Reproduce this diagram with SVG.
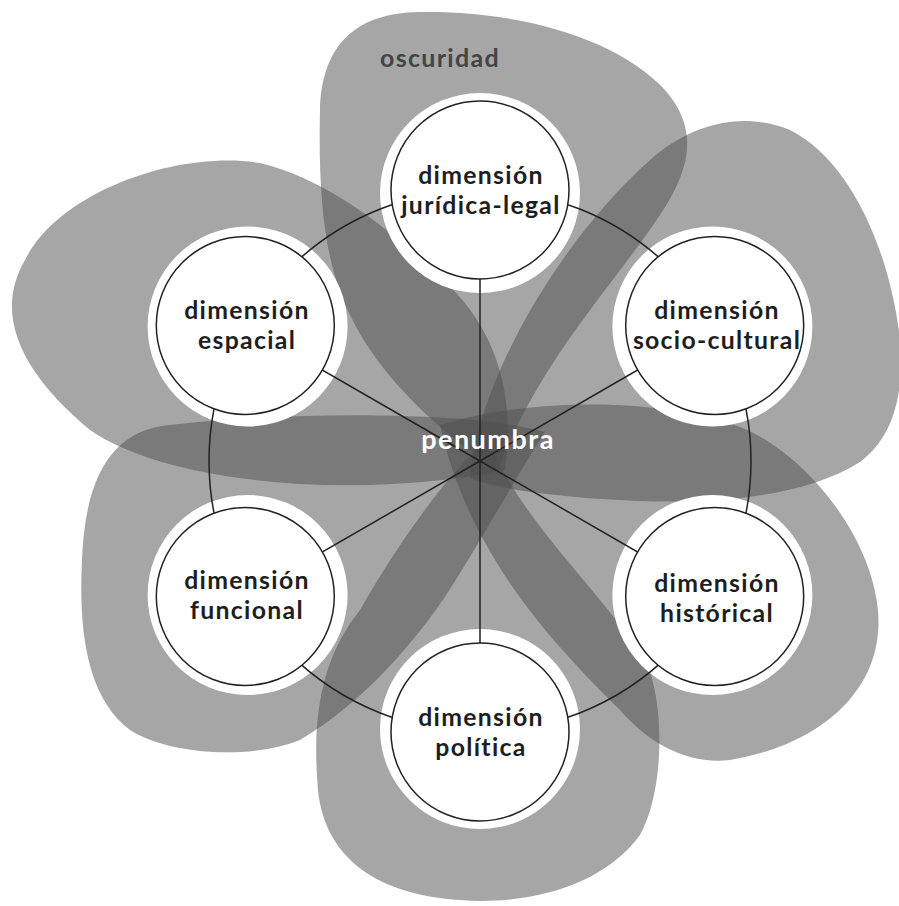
<svg xmlns="http://www.w3.org/2000/svg" width="899" height="906" viewBox="0 0 899 906">
<style>
.petal{fill:#4d4d4d;fill-opacity:0.5}
.halo{fill:#ffffff}
.disc{fill:#ffffff;stroke:#222222;stroke-width:1.5}
.conn{fill:none;stroke:#222222;stroke-width:1.5}
.lbl{font-family:Lato,"Open Sans","Liberation Sans",sans-serif;font-weight:700;font-size:24.8px;letter-spacing:1.3px;fill:#1e1e1e;text-anchor:middle}
.pen{font-family:Lato,"Open Sans","Liberation Sans",sans-serif;font-weight:700;font-size:27px;letter-spacing:1.5px;fill:#ffffff;text-anchor:middle}
.osc{font-family:Lato,"Open Sans","Liberation Sans",sans-serif;font-weight:700;font-size:25px;letter-spacing:1.3px;fill:#444444}
</style>
<rect width="899" height="906" fill="#ffffff"/>
<g id="petals">
<path id="petal-top" class="petal" d="M498,470 C450,440 380,380 350,315 C325,265 318,200 320,110 C322,50 350,13 420,12 C520,10 620,40 665,90 C700,130 690,170 660,215 C610,290 540,360 498,470Z"/>
<path id="petal-upper-right" class="petal" d="M470,478 C478,380 560,240 650,160 C690,125 740,110 790,130 C850,160 890,250 900,340 C905,400 890,440 860,462 C800,500 700,505 620,500 C560,497 500,490 470,478Z"/>
<path id="petal-lower-right" class="petal" d="M440,425 C520,400 650,395 740,427 C800,450 870,530 878,610 C885,690 820,745 730,760 C690,765 650,745 620,710 C560,650 470,560 440,425Z"/>
<path id="petal-bottom" class="petal" d="M488,440 C520,520 600,590 645,660 C665,700 665,790 640,835 C600,890 520,905 460,900 C380,895 325,860 318,790 C312,720 320,660 360,610 C400,540 450,470 488,440Z"/>
<path id="petal-lower-left" class="petal" d="M545,432 C480,412 300,410 170,425 C110,430 85,480 82,560 C78,640 90,700 130,730 C170,755 250,760 300,740 C360,705 420,640 460,573 C490,525 520,470 545,432Z"/>
<path id="petal-upper-left" class="petal" d="M505,470 C515,400 500,330 440,277 C390,230 330,180 260,163 C180,150 60,190 25,260 C-10,320 30,380 90,430 C170,485 360,500 505,470Z"/>
</g>
<text class="osc" x="380" y="67">oscuridad</text>
<g id="halos">
<circle class="halo" cx="480" cy="193" r="100"/>
<circle class="halo" cx="712.4" cy="326.5" r="100"/>
<circle class="halo" cx="712.4" cy="595" r="100"/>
<circle class="halo" cx="480" cy="729" r="100"/>
<circle class="halo" cx="247.6" cy="595" r="100"/>
<circle class="halo" cx="247.6" cy="326.5" r="100"/>
</g>
<g id="connectors">
<circle class="conn" cx="480" cy="461" r="271"/>
<line class="conn" x1="480" y1="461" x2="480" y2="190"/>
<line class="conn" x1="480" y1="461" x2="714.7" y2="325.5"/>
<line class="conn" x1="480" y1="461" x2="714.7" y2="596.5"/>
<line class="conn" x1="480" y1="461" x2="480" y2="732"/>
<line class="conn" x1="480" y1="461" x2="245.3" y2="596.5"/>
<line class="conn" x1="480" y1="461" x2="245.3" y2="325.5"/>
</g>
<text class="pen" x="488" y="449">penumbra</text>
<g id="node-juridica">
<circle class="disc" cx="480" cy="190" r="89"/>
<text class="lbl" x="481" y="184">dimensión<tspan x="481" dy="30">jurídica-legal</tspan></text>
</g>
<g id="node-socio">
<circle class="disc" cx="714.7" cy="325.5" r="89"/>
<text class="lbl" x="717" y="319">dimensión<tspan x="717" dy="30">socio-cultural</tspan></text>
</g>
<g id="node-historica">
<circle class="disc" cx="714.7" cy="596.5" r="89"/>
<text class="lbl" x="717" y="592">dimensión<tspan x="717" dy="30">histórical</tspan></text>
</g>
<g id="node-politica">
<circle class="disc" cx="480" cy="732" r="89"/>
<text class="lbl" x="481" y="726">dimensión<tspan x="481" dy="30">política</tspan></text>
</g>
<g id="node-funcional">
<circle class="disc" cx="245.3" cy="596.5" r="89"/>
<text class="lbl" x="247" y="589">dimensión<tspan x="247" dy="30">funcional</tspan></text>
</g>
<g id="node-espacial">
<circle class="disc" cx="245.3" cy="325.5" r="89"/>
<text class="lbl" x="247" y="319">dimensión<tspan x="247" dy="30">espacial</tspan></text>
</g>
</svg>
